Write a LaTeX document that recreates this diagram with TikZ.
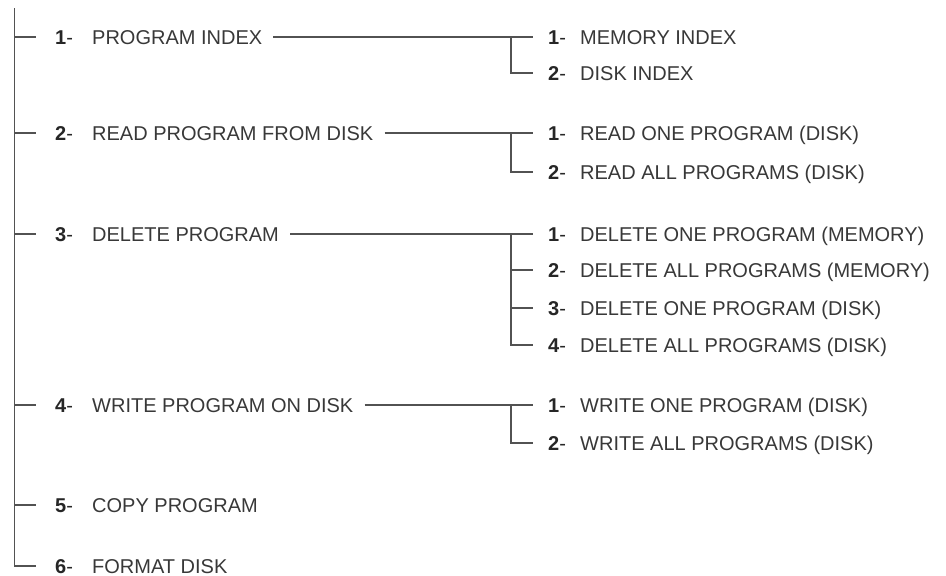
\documentclass[tikz,border=0pt]{standalone}
\usepackage{fontspec}
\setmainfont{Liberation Sans}
\begin{document}
\begin{tikzpicture}[x=1pt,y=-1pt,
  conn/.style={draw=black!68, line width=1.4pt},
  num/.style={anchor=west, inner sep=0pt, font=\fontsize{20}{20}\selectfont, text=black!85, text height=14.4pt, text depth=0pt},
  lbl/.style={anchor=west, inner sep=0pt, font=\fontsize{20}{20}\selectfont, text=black!78, text height=14.4pt, text depth=0pt}]
\useasboundingbox (0,0) rectangle (946,576);
% main rows
\foreach \i/\y/\t in {1/37/PROGRAM INDEX, 2/133/READ PROGRAM FROM DISK, 3/234/DELETE PROGRAM, 4/405/WRITE PROGRAM ON DISK, 5/505/COPY PROGRAM, 6/566/FORMAT DISK}{
  \node[num] (N\i) at (55,\y) {\textbf{\i}-};
  \node[lbl] (L\i) at (92,\y) {\t};
  \coordinate (m\i) at (14.5,\y);
  \coordinate (t\i) at (36,\y);
}
\coordinate (mtop) at (14.5,8);
\draw[conn] (mtop) |- (t6);
\foreach \i in {1,...,5}{ \draw[conn] (m\i) -- (t\i); }
% sub rows
\foreach \g/\j/\y/\t in {1/1/37/MEMORY INDEX, 1/2/73/DISK INDEX,
  2/1/133/READ ONE PROGRAM (DISK), 2/2/172/READ ALL PROGRAMS (DISK),
  3/1/234/DELETE ONE PROGRAM (MEMORY), 3/2/270/DELETE ALL PROGRAMS (MEMORY), 3/3/308/DELETE ONE PROGRAM (DISK), 3/4/345/DELETE ALL PROGRAMS (DISK),
  4/1/405/WRITE ONE PROGRAM (DISK), 4/2/443/WRITE ALL PROGRAMS (DISK)}{
  \node[num] (S\g\j n) at (548,\y) {\textbf{\j}-};
  \node[lbl] (S\g\j) at (580,\y) {\t};
  \coordinate (b\g\j) at (511,\y);
  \coordinate (e\g\j) at (533,\y);
}
\foreach \i in {1,...,4}{ \draw[conn] ([xshift=11pt]L\i.east) -- (e\i1); }
\draw[conn] (b11) |- (e12);
\draw[conn] (b21) |- (e22);
\draw[conn] (b31) |- (e34);
\draw[conn] (b32) -- (e32);
\draw[conn] (b33) -- (e33);
\draw[conn] (b41) |- (e42);
\end{tikzpicture}
\end{document}
